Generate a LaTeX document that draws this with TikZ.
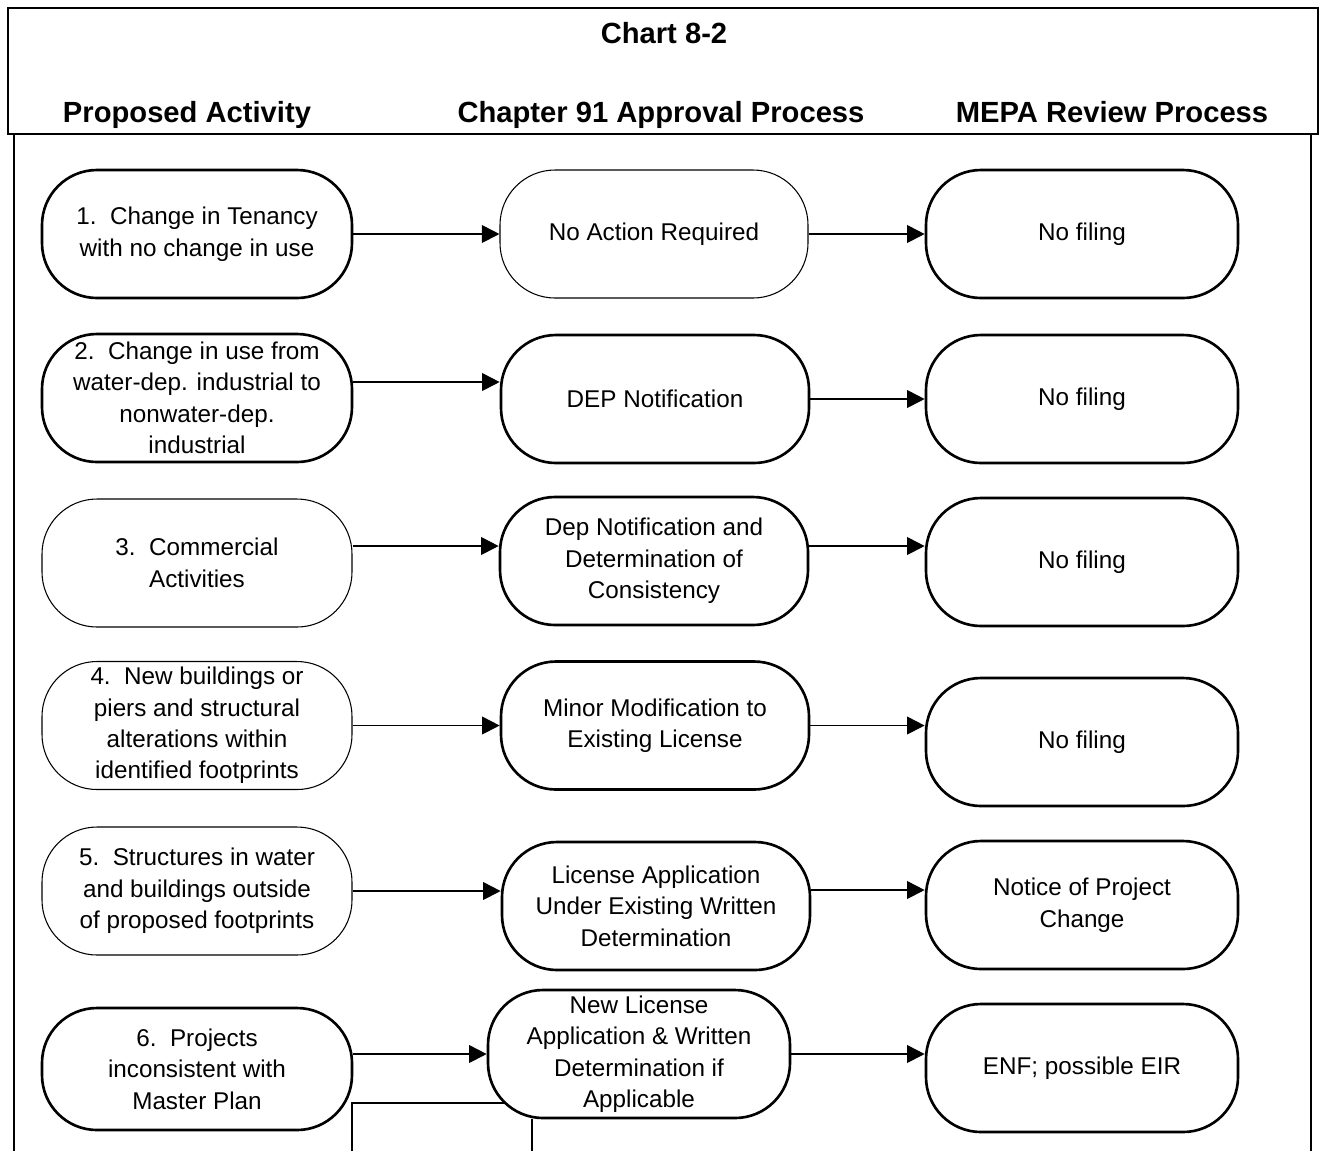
\documentclass[tikz,border=0pt]{standalone}
\usepackage{fontspec}
\setmainfont{Liberation Sans}
\usepackage{tikz}
\usetikzlibrary{arrows.meta, positioning}
\tikzset{
    stage/.style={
        draw,
        rectangle,
        rounded corners=1.1cm,
        line width=1.5pt,
        align=center,
        minimum height=2.56cm,
        inner sep=2pt,
        font=\fontsize{13.8}{17.9}\selectfont
    },
    faint/.style={line width=0.6pt},
    every edge/.style={
        draw,
        -{Triangle[length=10pt,width=10pt]},
        line width=1.1pt
    },
    heading/.style={anchor=base,font=\fontsize{16.6}{20}\selectfont\bfseries},
    link/.style={line width=1.1pt}
}

\begin{document}
\begin{tikzpicture}
	\useasboundingbox (0,0) rectangle (26.5,-23.02);
	% frame and headings
	\draw[line width=1pt] (0.16,-0.16) rectangle (26.36,-2.68);
	\draw[line width=1pt] (0.28,-2.68) -- (0.28,-23.02);
	\draw[line width=1pt] (26.22,-2.68) -- (26.22,-23.02);
	\node[heading] at (13.28,-0.86) (title) {Chart 8-2};
	\node[heading] at (3.74,-2.44) (h1) {Proposed Activity};
	\node[heading] at (13.22,-2.44) (h2) {Chapter 91 Approval Process};
	\node[heading] at (22.24,-2.44) (h3) {MEPA Review Process};
	% proposed activity
	\node[stage,minimum width=6.2cm] at (3.94,-4.68) (a1) {1.\ \ Change in Tenancy\\with no change in use};
	\node[stage,minimum width=6.2cm] at (3.94,-7.96) (a2) {2.\ \ Change in use from\\water-dep. industrial to\\nonwater-dep.\\industrial};
	\node[stage,faint,minimum width=6.2cm] at (3.94,-11.26) (a3) {3.\ \ Commercial\\Activities};
	\node[stage,faint,minimum width=6.2cm] at (3.94,-14.51) (a4) {4.\ \ New buildings or\\piers and structural\\alterations within\\identified footprints};
	\node[stage,faint,minimum width=6.2cm] at (3.94,-17.82) (a5) {5.\ \ Structures in water\\and buildings outside\\of proposed footprints};
	\node[stage,minimum width=6.2cm,minimum height=2.44cm] at (3.94,-21.38) (a6) {6.\ \ Projects\\inconsistent with\\Master Plan};
	% chapter 91
	\node[stage,faint,minimum width=6.16cm] at (13.08,-4.68) (b1) {No Action Required};
	\node[stage,minimum width=6.16cm] at (13.10,-7.98) (b2) {DEP Notification};
	\node[stage,minimum width=6.16cm] at (13.08,-11.22) (b3) {Dep Notification and\\Determination of\\Consistency};
	\node[stage,minimum width=6.16cm] at (13.10,-14.51) (b4) {Minor Modification to\\Existing License};
	\node[stage,minimum width=6.16cm] at (13.12,-18.12) (b5) {License Application\\Under Existing Written\\Determination};
	\node[stage,minimum width=6.04cm] at (12.78,-21.08) (b6) {New License\\Application \& Written\\Determination if\\Applicable};
	% MEPA
	\node[stage,minimum width=6.24cm] at (21.64,-4.68) (c1) {No filing};
	\node[stage,minimum width=6.24cm] at (21.64,-7.98) (c2) {No filing};
	\node[stage,minimum width=6.24cm] at (21.64,-11.24) (c3) {No filing};
	\node[stage,minimum width=6.24cm] at (21.64,-14.84) (c4) {No filing};
	\node[stage,minimum width=6.24cm] at (21.64,-18.10) (c5) {Notice of Project\\Change};
	\node[stage,minimum width=6.24cm] at (21.64,-21.36) (c6) {ENF; possible EIR};
	\draw
	(a1) edge (b1)
	(b1) edge (c1)
	([yshift=0.32cm]a2.east) edge ([yshift=0.32cm]a2.east -| b2.west)
	(b2) edge (c2)
	([yshift=0.34cm]a3.east) edge ([yshift=0.34cm]a3.east -| b3.west)
	([yshift=0.30cm]b3.east) edge ([yshift=0.30cm]b3.east -| c3.west)
	(a4) edge (b4)
	(b4.east) edge (b4.east -| c4.west)
	(a5.east) edge (a5.east -| b5.west)
	([yshift=0.32cm]b5.east) edge ([yshift=0.32cm]b5.east -| c5.west)
	([yshift=0.30cm]a6.east) edge ([yshift=0.30cm]a6.east -| b6.west)
	(b6.east) edge (b6.east -| c6.west);
	% lines running on past the page
	\coordinate (j1) at (7.04,-22.06);
	\coordinate (j2) at (7.04,-23.02);
	\coordinate (k1) at (10.64,-23.02);
	\draw[link] (j2) -- (j1) -- ([xshift=0.38cm]j1 -| b6.west);
	\draw[link] (k1) -- (k1 |- b6.south);
\end{tikzpicture}
\end{document}
